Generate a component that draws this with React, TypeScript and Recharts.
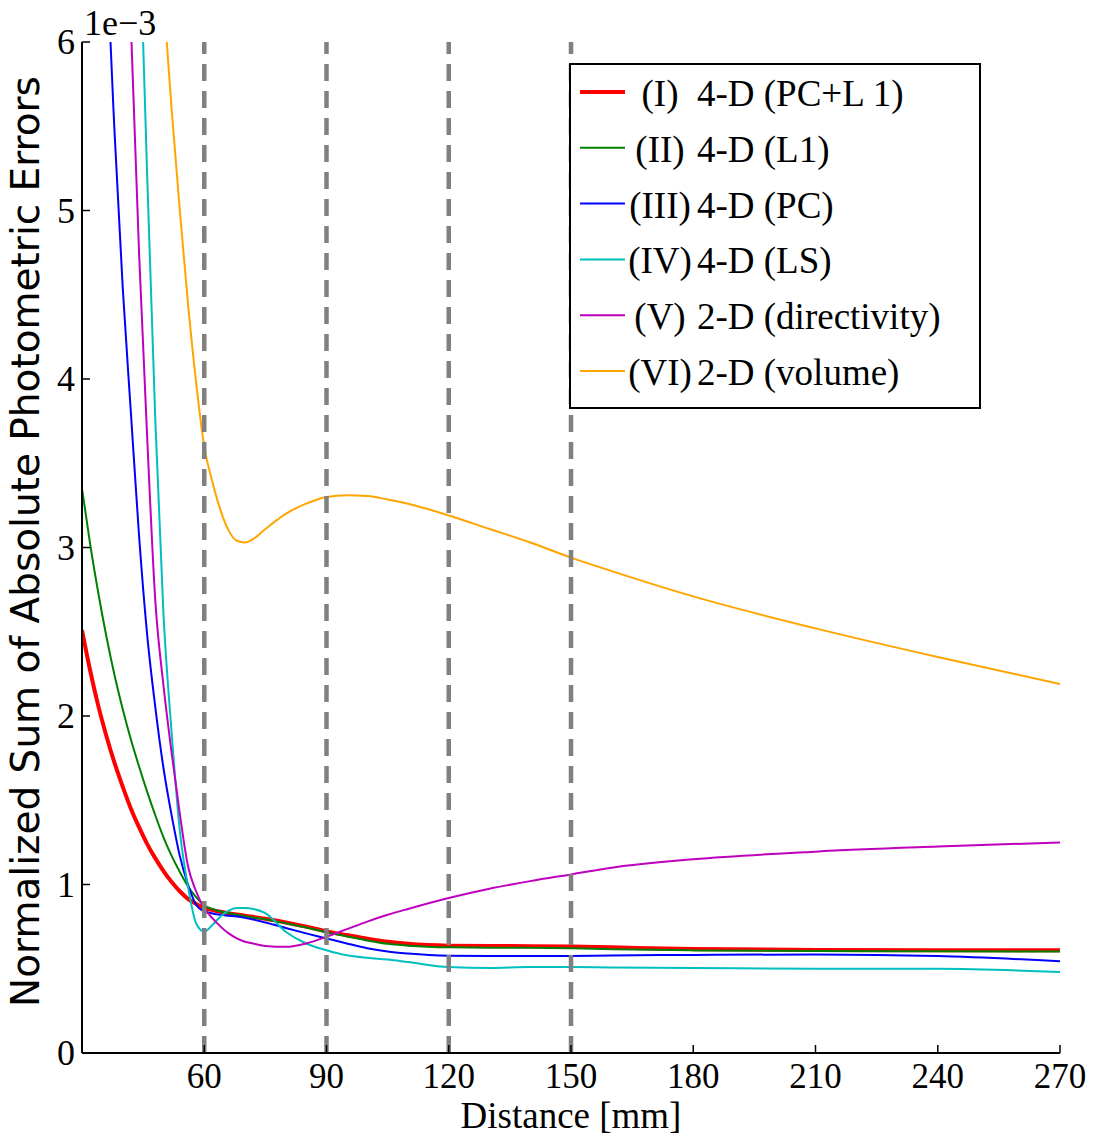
import React from 'react';
import {
  LineChart,
  Line,
  XAxis,
  YAxis,
  ReferenceLine,
  Legend,
} from 'recharts';

const SERIF = '"Liberation Serif", "Times New Roman", serif';
const SANS = '"DejaVu Sans", sans-serif';

// distance [mm]
const XS = [30, 32, 34, 36, 38, 40, 42, 44, 46, 48, 50, 52, 54, 56, 58, 60, 62, 64, 66, 68, 70, 72, 75, 80, 85, 90, 95, 100, 105, 110, 120, 130, 140, 150, 160, 180, 210, 240, 270];

// errors (x 1e-3)
const PC_L1 = [2.51, 2.27, 2.06, 1.88, 1.72, 1.58, 1.45, 1.34, 1.24, 1.155, 1.08, 1.015, 0.96, 0.915, 0.885, 0.86, 0.848, 0.838, 0.83, 0.822, 0.815, 0.808, 0.797, 0.775, 0.75, 0.722, 0.7, 0.678, 0.66, 0.648, 0.637, 0.635, 0.634, 0.632, 0.627, 0.617, 0.612, 0.61, 0.61];
const L1 = [3.35, 3.02, 2.73, 2.47, 2.24, 2.04, 1.86, 1.7, 1.55, 1.41, 1.28, 1.17, 1.075, 0.99, 0.925, 0.875, 0.855, 0.84, 0.83, 0.82, 0.812, 0.804, 0.793, 0.77, 0.745, 0.716, 0.692, 0.668, 0.648, 0.637, 0.627, 0.625, 0.624, 0.621, 0.616, 0.609, 0.605, 0.604, 0.602];
const PC = [12, 10, 8.1, 6.55, 5.46, 4.54, 3.8, 3.07, 2.48, 2.05, 1.69, 1.41, 1.17, 1.0, 0.88, 0.84, 0.828, 0.82, 0.815, 0.81, 0.802, 0.792, 0.775, 0.742, 0.71, 0.68, 0.65, 0.622, 0.602, 0.59, 0.577, 0.575, 0.575, 0.576, 0.579, 0.582, 0.585, 0.575, 0.545];
const LS = [24, 20, 17, 14.5, 12.3, 10.4, 8.6, 6.8, 5.2, 3.75, 2.6, 1.9, 1.32, 0.99, 0.77, 0.72, 0.76, 0.81, 0.845, 0.86, 0.86, 0.855, 0.83, 0.72, 0.65, 0.61, 0.58, 0.565, 0.555, 0.54, 0.51, 0.505, 0.51, 0.51, 0.508, 0.505, 0.5, 0.5, 0.48];
const DIRECTIVITY = [22, 18, 14.5, 11.8, 9.5, 7.8, 6.1, 4.75, 3.65, 2.68, 2.18, 1.78, 1.42, 1.11, 0.96, 0.86, 0.8, 0.75, 0.71, 0.68, 0.66, 0.65, 0.635, 0.63, 0.65, 0.69, 0.735, 0.78, 0.82, 0.855, 0.92, 0.975, 1.02, 1.06, 1.1, 1.15, 1.195, 1.225, 1.25];
const VOLUME = [25, 22, 19, 17, 15, 13, 11.3, 9.8, 8.4, 7.2, 6.3, 5.6, 5.0, 4.45, 3.98, 3.6, 3.39, 3.22, 3.1, 3.04, 3.03, 3.05, 3.11, 3.2, 3.26, 3.3, 3.31, 3.305, 3.285, 3.26, 3.19, 3.11, 3.03, 2.94, 2.86, 2.71, 2.52, 2.35, 2.19];

const KEYS = ['pcl1', 'l1', 'pc', 'ls', 'dir', 'vol'];
const ROMAN = ['(I)', '(II)', '(III)', '(IV)', '(V)', '(VI)'];
const DESC = ['4-D (PC+L 1)', '4-D (L1)', '4-D (PC)', '4-D (LS)', '2-D (directivity)', '2-D (volume)'];
const COLORS = ['#ff0000', '#008000', '#0000ff', '#00bfbf', '#bf00bf', '#ffa500'];
const WIDTHS = [4, 2, 2, 2, 2, 2];

const X_TICKS = [60, 90, 120, 150, 180, 210, 240, 270];
const Y_TICKS = [0, 1, 2, 3, 4, 5, 6];
const MARKERS = [60, 90, 120, 150];

const SERIES = [PC_L1, L1, PC, LS, DIRECTIVITY, VOLUME];
const data = XS.map((x, i) => {
  const row: Record<string, number> = { x };
  KEYS.forEach((k, j) => (row[k] = SERIES[j][i]));
  return row;
});

// ticks pointing inward, matplotlib style
const BottomTick = ({ x, y, payload }: any) => (
  <g>
    <line x1={x} y1={y} x2={x} y2={y - 8} stroke="#000" strokeWidth={1.5} />
    <text x={x} y={y + 35} textAnchor="middle" fontFamily={SERIF} fontSize={35} fill="#000">
      {payload.value}
    </text>
  </g>
);
const TopTick = ({ x, y }: any) => <line x1={x} y1={y} x2={x} y2={y + 8} stroke="#000" strokeWidth={1.5} />;
const LeftTick = ({ x, y, payload }: any) => (
  <g>
    <line x1={x} y1={y} x2={x + 8} y2={y} stroke="#000" strokeWidth={1.5} />
    <text x={x - 7} y={y + 12} textAnchor="end" fontFamily={SERIF} fontSize={36} fill="#000">
      {payload.value}
    </text>
  </g>
);
const RightTick = ({ x, y }: any) => <line x1={x} y1={y} x2={x - 8} y2={y} stroke="#000" strokeWidth={1.5} />;

function renderLegend(props: any) {
  const payload = props.payload || [];
  return (
    <svg width={412} height={346} style={{ display: 'block' }}>
      <rect x={1} y={1} width={410} height={344} fill="#fff" stroke="#000" strokeWidth={2} />
      {payload.map((p: any, i: number) => {
        const cy = 29 + 55.8 * i;
        return (
          <g key={i}>
            <line x1={11} x2={56} y1={cy} y2={cy} stroke={p.color} strokeWidth={WIDTHS[i]} />
            <text x={91} y={cy + 14} textAnchor="middle" fontFamily={SERIF} fontSize={37} fill="#000">
              {ROMAN[i]}
            </text>
            <text x={128} y={cy + 14} fontFamily={SERIF} fontSize={37} fill="#000">
              {DESC[i]}
            </text>
          </g>
        );
      })}
    </svg>
  );
}

export default function App() {
  return (
    <div style={{ position: 'absolute', left: 0, top: 0, width: 1099, height: 1140, background: '#fff' }}>
      <LineChart width={1099} height={1140} data={data} margin={{ top: 42, right: 39, bottom: 0, left: 0 }}>
        <XAxis
          xAxisId="b"
          dataKey="x"
          type="number"
          domain={[30, 270]}
          allowDataOverflow
          ticks={X_TICKS}
          interval={0}
          height={87}
          tickSize={0}
          tickMargin={0}
          tickLine={false}
          axisLine={{ stroke: '#000', strokeWidth: 2 }}
          tick={(p: any) => <BottomTick {...p} />}
          label={(p: any) => {
            const vb = p.viewBox;
            return (
              <text x={vb.x + vb.width / 2} y={vb.y + 75} textAnchor="middle" fontFamily={SERIF} fontSize={37} fill="#000">
                Distance [mm]
              </text>
            );
          }}
        />
        <XAxis
          xAxisId="t"
          orientation="top"
          dataKey="x"
          type="number"
          domain={[30, 270]}
          allowDataOverflow
          ticks={X_TICKS}
          interval={0}
          height={0}
          tickSize={0}
          tickMargin={0}
          tickLine={false}
          axisLine={{ stroke: '#000', strokeWidth: 2 }}
          tick={(p: any) => <TopTick {...p} />}
        />
        <YAxis
          yAxisId="l"
          type="number"
          domain={[0, 6]}
          allowDataOverflow
          ticks={Y_TICKS}
          interval={0}
          width={82}
          tickSize={0}
          tickMargin={0}
          tickLine={false}
          axisLine={{ stroke: '#000', strokeWidth: 2 }}
          tick={(p: any) => <LeftTick {...p} />}
          label={(p: any) => {
            const vb = p.viewBox;
            const cy = vb.y + vb.height / 2 - 6;
            return (
              <g>
                <text
                  transform={`translate(${vb.x + 39},${cy}) rotate(-90)`}
                  textAnchor="middle"
                  fontFamily={SANS}
                  fontSize={39}
                  fill="#000"
                >
                  Normalized Sum of Absolute Photometric Errors
                </text>
                <text x={vb.x + vb.width + 2} y={vb.y - 7} fontFamily={SERIF} fontSize={36} fill="#000">
                  1e−3
                </text>
              </g>
            );
          }}
        />
        <YAxis
          yAxisId="r"
          orientation="right"
          type="number"
          domain={[0, 6]}
          allowDataOverflow
          ticks={Y_TICKS}
          interval={0}
          width={0}
          tickSize={0}
          tickMargin={0}
          tickLine={false}
          axisLine={{ stroke: '#000', strokeWidth: 2 }}
          tick={(p: any) => <RightTick {...p} />}
        />
        {KEYS.map((k, i) => (
          <Line
            key={k}
            xAxisId="b"
            yAxisId="l"
            type="monotone"
            dataKey={k}
            name={`${ROMAN[i]} ${DESC[i]}`}
            stroke={COLORS[i]}
            strokeWidth={WIDTHS[i]}
            dot={false}
            activeDot={false}
            isAnimationActive={false}
          />
        ))}
        {MARKERS.map((m) => (
          <ReferenceLine
            key={m}
            xAxisId="b"
            yAxisId="l"
            x={m}
            stroke="#808080"
            strokeWidth={4.5}
            strokeDasharray="17 10"
          />
        ))}
        <Legend
          layout="vertical"
          align="center"
          verticalAlign="middle"
          wrapperStyle={{ left: 569, top: 63, width: 412, height: 346 }}
          content={renderLegend}
        />
      </LineChart>
    </div>
  );
}
